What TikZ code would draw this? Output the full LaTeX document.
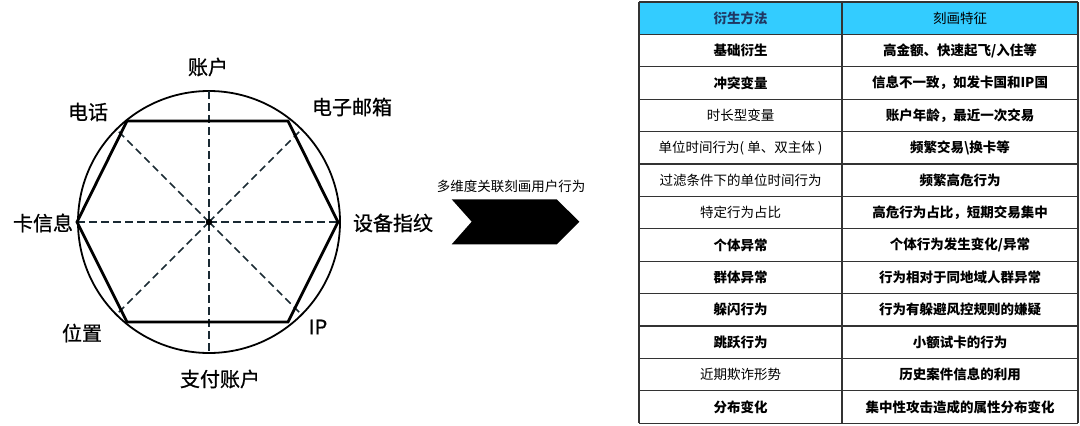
\documentclass[tikz,border=0pt]{standalone}
\usepackage{fontspec}
\setmainfont{Noto Sans CJK SC}
\newfontfamily\labelfont{Noto Sans CJK SC}[FakeBold=0.8]
\definecolor{hdrblue}{HTML}{33CCFF}
\definecolor{hdrtext}{HTML}{1F3864}
\definecolor{gridc}{HTML}{333333}
\definecolor{dashc}{HTML}{1A2A33}
\tikzset{
  lbl/.style={font=\labelfont\fontsize{20}{20}\selectfont, inner sep=0pt, anchor=center},
  celltxt/.style={font=\fontsize{13.5}{14}\selectfont, inner sep=0pt, anchor=center},
  cellbold/.style={celltxt, font=\fontsize{13.5}{14}\selectfont\bfseries},
  hexline/.style={line width=2.8pt, line join=miter},
  dashline/.style={dashc, line width=1.5pt, dash pattern=on 7.5pt off 4.5pt},
  gridline/.style={gridc, line width=1.2pt},
}
\begin{document}
\begin{tikzpicture}[x=1pt,y=-1pt]
\useasboundingbox (0,0) rectangle (1080,426);
% ---- radar ----
\coordinate (O) at (209,222);
\coordinate (L) at (77,222);
\coordinate (TL) at (127,121);
\coordinate (TR) at (288,121);
\coordinate (R) at (338,222);
\coordinate (BR) at (288,322);
\coordinate (BL) at (127,322);
\draw[line width=1.8pt] (O) circle[radius=131];
\coordinate (CT) at (209,91);
\coordinate (CB) at (209,353);
\draw[dashline] (CT) -- (CB);
\draw[dashline] (L) -- (R);
\draw[dashline] (O) -- ++(-93,-93);
\draw[dashline] (O) -- ++(93,-93);
\draw[dashline] (O) -- ++(-93,93);
\draw[dashline] (O) -- ++(93,93);
\draw[hexline] (L) -- (TL) -- (TR) -- (R) -- (BR) -- (BL) -- cycle;
\node[circle, fill=black, inner sep=0pt, minimum size=6.5pt] (ctr) at (O) {};
\node[lbl] (l1) at (208,67) {账户};
\node[lbl] (l2) at (88,112) {电话};
\node[lbl] (l3) at (352,107) {电子邮箱};
\node[lbl] (l4) at (43,223) {卡信息};
\node[lbl] (l5) at (393,223) {设备指纹};
\node[lbl] (l6) at (82,333) {位置};
\node[lbl] (l7) at (318,327) {IP};
\node[lbl] (l8) at (220,379) {支付账户};
% ---- chevron ----
\fill[black] (451.7,199.3) -- (556.7,199.3) -- (579.3,221.7) -- (556.7,244.3) -- (451.7,244.3) -- (471.7,221.7) -- cycle;
\node[celltxt] (arrowlbl) at (511,186.5) {多维度关联刻画用户行为};
% ---- table ----
\def\tl{639}\def\tm{842}\def\tr{1078}
\fill[hdrblue] (\tl,2) rectangle (\tr,34.4);
\foreach \k in {0,...,13} {
  \draw[gridline] (\tl,{2+\k*32.4}) -- (\tr,{2+\k*32.4});
}
\draw[gridline] (\tl,2) -- (\tl,423.2);
\draw[gridline] (\tm,2) -- (\tm,423.2);
\draw[gridline] (\tr,2) -- (\tr,423.2);
\newcommand{\rowy}[1]{18.2+#1*32.4}
\node[cellbold, text=hdrtext] (h1) at (740.5,{\rowy{0}}) {衍生方法};
\node[celltxt] (h2) at (960,{\rowy{0}}) {刻画特征};
\node[cellbold] (a1) at (740.5,{\rowy{1}}) {基础衍生};
\node[cellbold] (b1) at (960,{\rowy{1}}) {高金额、快速起飞/入住等};
\node[cellbold] (a2) at (740.5,{\rowy{2}}) {冲突变量};
\node[cellbold] (b2) at (960,{\rowy{2}}) {信息不一致，如发卡国和IP国};
\node[celltxt] (a3) at (740.5,{\rowy{3}}) {时长型变量};
\node[cellbold] (b3) at (960,{\rowy{3}}) {账户年龄，最近一次交易};
\node[celltxt] (a4) at (740.5,{\rowy{4}}) {单位时间行为( 单、双主体 )};
\node[cellbold] (b4) at (960,{\rowy{4}}) {频繁交易\textbackslash 换卡等};
\node[celltxt] (a5) at (740.5,{\rowy{5}}) {过滤条件下的单位时间行为};
\node[cellbold] (b5) at (960,{\rowy{5}}) {频繁高危行为};
\node[celltxt] (a6) at (740.5,{\rowy{6}}) {特定行为占比};
\node[cellbold] (b6) at (960,{\rowy{6}}) {高危行为占比，短期交易集中};
\node[cellbold] (a7) at (740.5,{\rowy{7}}) {个体异常};
\node[cellbold] (b7) at (960,{\rowy{7}}) {个体行为发生变化/异常};
\node[cellbold] (a8) at (740.5,{\rowy{8}}) {群体异常};
\node[cellbold] (b8) at (960,{\rowy{8}}) {行为相对于同地域人群异常};
\node[cellbold] (a9) at (740.5,{\rowy{9}}) {躲闪行为};
\node[cellbold] (b9) at (960,{\rowy{9}}) {行为有躲避风控规则的嫌疑};
\node[cellbold] (a10) at (740.5,{\rowy{10}}) {跳跃行为};
\node[cellbold] (b10) at (960,{\rowy{10}}) {小额试卡的行为};
\node[celltxt] (a11) at (740.5,{\rowy{11}}) {近期欺诈形势};
\node[cellbold] (b11) at (960,{\rowy{11}}) {历史案件信息的利用};
\node[cellbold] (a12) at (740.5,{\rowy{12}}) {分布变化};
\node[cellbold] (b12) at (960,{\rowy{12}}) {集中性攻击造成的属性分布变化};
\end{tikzpicture}
\end{document}
